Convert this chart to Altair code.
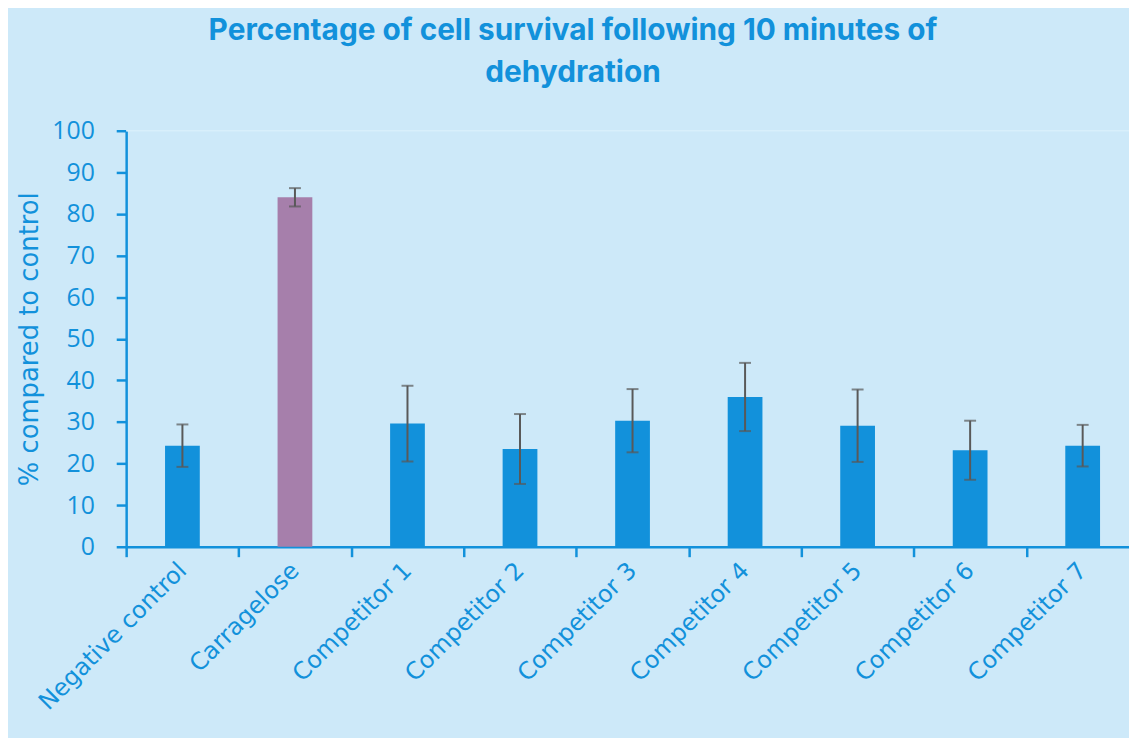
import altair as alt
import pandas as pd

categories = ["Negative control", "Carragelose", "Competitor 1", "Competitor 2",
              "Competitor 3", "Competitor 4", "Competitor 5", "Competitor 6", "Competitor 7"]
values = [24.3, 84.0, 29.6, 23.5, 30.3, 36.0, 29.1, 23.2, 24.3]
errors = [5.1, 2.2, 9.1, 8.4, 7.6, 8.2, 8.7, 7.1, 5.0]
groups = ["Other", "Carragelose", "Other", "Other", "Other", "Other", "Other", "Other", "Other"]

df = pd.DataFrame({
    "category": categories,
    "value": values,
    "lo": [v - e for v, e in zip(values, errors)],
    "hi": [v + e for v, e in zip(values, errors)],
    "group": groups,
})

BLUE = "#1291db"
PURPLE = "#a67fab"
BG = "#cde9f9"
ERR = "#595959"
LABEL_FONT = "DejaVu Sans"
TICK_FONT = "Open Sans"

x = alt.X(
    "category:N", sort=categories, title=None,
    scale=alt.Scale(range=[0, 1020], paddingInner=0, paddingOuter=0),
    axis=alt.Axis(labelAngle=-45, labelAlign="right", labelBaseline="middle",
                  labelFontSize=24, labelFont=LABEL_FONT, labelColor=BLUE, labelPadding=10,
                  domainColor=BLUE, domainWidth=2.5, tickColor=BLUE, tickWidth=2.5,
                  tickSize=10, tickBand="extent", labelOverlap=False, labelLimit=400),
)
y_axis = alt.Axis(values=list(range(0, 101, 10)), labelFontSize=25, labelFont=TICK_FONT,
                  labelColor=BLUE, labelPadding=22, domainColor=BLUE, domainWidth=2.5,
                  tickColor=BLUE, tickWidth=2.5, tickSize=10, grid=False,
                  title="% compared to control", titleFontSize=26, titleFont=LABEL_FONT,
                  titleFontWeight="normal", titleColor=BLUE, titlePadding=9)
y = alt.Y("value:Q", scale=alt.Scale(domain=[0, 100], nice=False), axis=y_axis)

base = alt.Chart(df)

bars = base.mark_bar(size=35).encode(
    x=x, y=y,
    color=alt.Color("group:N", scale=alt.Scale(domain=["Other", "Carragelose"], range=[BLUE, PURPLE]),
                    legend=None),
)
rule = base.mark_rule(color=ERR, strokeWidth=2).encode(
    x=alt.X("category:N", sort=categories), y="lo:Q", y2="hi:Q")
cap_lo = base.mark_tick(color=ERR, size=12, thickness=2).encode(
    x=alt.X("category:N", sort=categories), y="lo:Q")
cap_hi = base.mark_tick(color=ERR, size=12, thickness=2).encode(
    x=alt.X("category:N", sort=categories), y="hi:Q")
top_line = alt.Chart(pd.DataFrame({"v": [100]})).mark_rule(color="#d8effb", strokeWidth=1.5).encode(y="v:Q")

chart = alt.layer(top_line, bars, rule, cap_lo, cap_hi).properties(
    width=1010, height=419,
    title=alt.TitleParams(
        text=["Percentage of cell survival following 10 minutes of", "dehydration"],
        font="Inter", fontSize=30, fontWeight="bold", color=BLUE,
        anchor="middle", dx=-55, offset=31, lineHeight=42),
    autosize=alt.AutoSizeParams(type="none"),
    padding={"left": 119, "top": 121, "right": 0, "bottom": 190},
).configure(background=BG).configure_view(stroke=None)

chart.save("out.html", embed_options={"renderer": "svg", "actions": False})
